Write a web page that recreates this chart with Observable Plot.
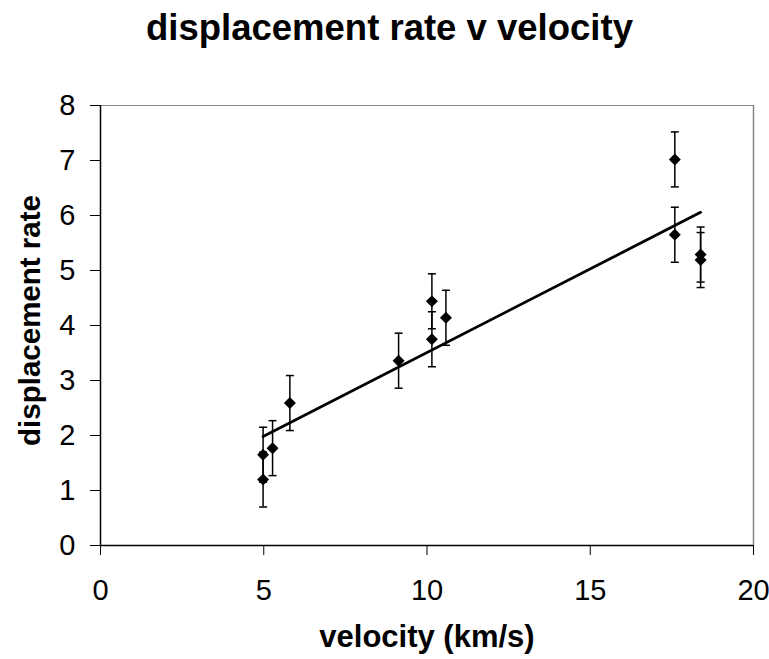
<!DOCTYPE html>
<html>
<head>
<meta charset="utf-8">
<script src="https://cdn.jsdelivr.net/npm/d3@7"></script>
<script src="https://cdn.jsdelivr.net/npm/@observablehq/plot@0.6"></script>
<style>
  html, body { margin: 0; padding: 0; background: #fff; }
  body { width: 769px; height: 659px; overflow: hidden; font-family: "Liberation Sans", Arial, sans-serif; }
  #title { height: 60px; width: 769px; text-align: center; font-weight: bold; font-size: 36.5px; line-height: 56px; color: #000; padding-left: 10px; box-sizing: border-box; }
  svg { display: block; }
</style>
</head>
<body>
<div id="title">displacement rate v velocity</div>
<div id="chart"></div>
<script>
const velocity = [4.98, 4.98, 5.27, 5.80, 9.13, 10.15, 10.15, 10.58, 17.59, 17.59, 18.38, 18.38];
const rate     = [1.20, 1.65, 1.77, 2.59, 3.36, 4.44, 3.75, 4.14, 7.02, 5.65, 5.29, 5.19];
const errorBar = [0.5, 0.5, 0.5, 0.5, 0.5, 0.5, 0.5, 0.5, 0.5, 0.5, 0.5, 0.5];
const xTicks = [0, 5, 10, 15, 20];
const yTicks = [0, 1, 2, 3, 4, 5, 6, 7, 8];
const xLabel = "velocity (km/s)";
const yLabel = "displacement rate";

const data = velocity.map((v, i) => ({x: v, y: rate[i], e: errorBar[i]}));

const cap = {
  draw(context, size) {
    context.moveTo(-4, 0);
    context.lineTo(4, 0);
  }
};

const font = "Liberation Sans, Arial, sans-serif";

const chart = Plot.plot({
  width: 769,
  height: 599,
  marginTop: 45,
  marginBottom: 114,
  marginLeft: 100,
  marginRight: 16,
  style: {fontFamily: font, background: "#fff", color: "#000"},
  x: {domain: [0, 20], ticks: xTicks},
  y: {domain: [0, 8], ticks: yTicks},
  marks: [
    Plot.ruleY([8], {stroke: "#888", strokeWidth: 1.2}),
    Plot.ruleX([20], {stroke: "#888", strokeWidth: 1.5}),
    Plot.axisX({ticks: xTicks, tickSize: 10, tickPadding: 24, fontSize: 29, label: null, stroke: "#000"}),
    Plot.axisY({ticks: yTicks, tickSize: 10, tickPadding: 15, fontSize: 29, label: null, stroke: "#000"}),
    Plot.ruleY([0], {stroke: "#000", strokeWidth: 1.5}),
    Plot.ruleX([0], {stroke: "#000", strokeWidth: 1.5}),
    Plot.ruleX(data, {x: "x", y1: d => d.y - d.e, y2: d => d.y + d.e, stroke: "#000", strokeWidth: 1.5}),
    Plot.dot(data, {x: "x", y: d => d.y + d.e, symbol: cap, r: 4, stroke: "#000", strokeWidth: 1.5}),
    Plot.dot(data, {x: "x", y: d => d.y - d.e, symbol: cap, r: 4, stroke: "#000", strokeWidth: 1.5}),
    Plot.linearRegressionY(data, {x: "x", y: "y", ci: 0, stroke: "#000", strokeWidth: 2.8}),
    Plot.dot(data, {x: "x", y: "y", symbol: "diamond2", r: 5.4, fill: "#000", stroke: "none"}),
    Plot.text([xLabel], {frameAnchor: "bottom", dy: 92, fontSize: 31, fontWeight: "bold", fill: "#000", lineAnchor: "middle"}),
    Plot.text([yLabel], {frameAnchor: "left", dx: -70, dy: -5, rotate: -90, textAnchor: "middle", lineAnchor: "middle", fontSize: 29.5, fontWeight: "bold", fill: "#000"})
  ]
});
document.getElementById("chart").appendChild(chart);
</script>
</body>
</html>
